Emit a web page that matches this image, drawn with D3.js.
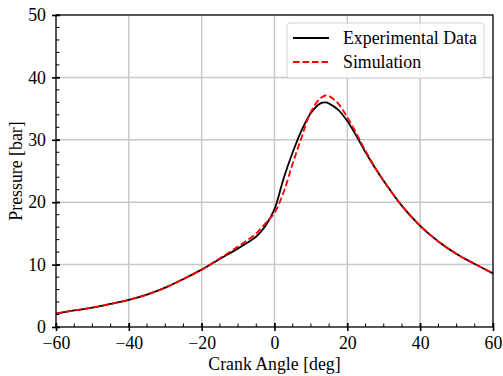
<!DOCTYPE html>
<html>
<head>
<meta charset="utf-8">
<script src="https://cdn.jsdelivr.net/npm/d3@7"></script>
<style>
  body { margin: 0; background: #fff; }
  svg { display: block; }
  svg text { font-family: "Liberation Serif", "Times New Roman", serif; }
</style>
</head>
<body>
<div id="chart"></div>
<script>
// crank angle [deg]
const angleExp = [-60, -55, -50, -45, -40, -35, -30, -25, -20, -15, -10, -7.5, -5, -2.5, 0, 2.5, 5, 7.5, 10, 12.5, 14, 15, 17.5, 20, 22.5, 25, 27.5, 30, 35, 40, 45, 50, 55, 60];
const pressureExp = [2.15, 2.65, 3.1, 3.7, 4.35, 5.2, 6.3, 7.7, 9.2, 10.9, 12.6, 13.5, 14.5, 16.2, 18.9, 23.8, 28.0, 31.6, 34.3, 35.8, 36.0, 35.8, 34.8, 33.0, 30.6, 28.0, 25.6, 23.4, 19.4, 16.2, 13.7, 11.7, 10.1, 8.6];

const angleSim = [-60, -55, -50, -45, -40, -35, -30, -25, -20, -15, -10, -7.5, -5, -2.5, 0, 2.5, 5, 7.5, 10, 12.5, 14, 15, 17.5, 20, 22.5, 25, 27.5, 30, 35, 40, 45, 50, 55, 60];
const pressureSim = [2.15, 2.65, 3.1, 3.7, 4.35, 5.2, 6.3, 7.7, 9.2, 11.0, 12.9, 13.9, 15.0, 16.6, 18.3, 21.6, 26.2, 30.5, 34.5, 36.6, 37.1, 37.0, 35.8, 33.6, 31.0, 28.2, 25.7, 23.4, 19.4, 16.2, 13.7, 11.7, 10.1, 8.6];

const xTicks = [-60, -40, -20, 0, 20, 40, 60];
const yTicks = [0, 10, 20, 30, 40, 50];
const xMinor = d3.range(-60, 61, 5);
const yMinor = d3.range(0, 51, 2);

const seriesNames = ["Experimental Data", "Simulation"];

const W = 503, H = 376;
const margin = { top: 15, right: 10, bottom: 49, left: 56 };
const width = W - margin.left - margin.right;
const height = H - margin.top - margin.bottom;
const fontSize = "17.8px";

const svg = d3.select("#chart").append("svg")
    .attr("width", W)
    .attr("height", H);

const g = svg.append("g")
    .attr("transform", "translate(" + margin.left + "," + margin.top + ")");

const x = d3.scaleLinear().domain([-60, 60]).range([0, width]);
const y = d3.scaleLinear().domain([0, 50]).range([height, 0]);

// grid
g.append("g").selectAll("line")
    .data(xTicks)
    .enter().append("line")
    .attr("x1", d => x(d)).attr("x2", d => x(d))
    .attr("y1", 0).attr("y2", height)
    .attr("stroke", "#c8c8c8").attr("stroke-width", 1.5);
g.append("g").selectAll("line")
    .data(yTicks)
    .enter().append("line")
    .attr("x1", 0).attr("x2", width)
    .attr("y1", d => y(d)).attr("y2", d => y(d))
    .attr("stroke", "#c8c8c8").attr("stroke-width", 1.5);

// curves
const line = d3.line()
    .x(d => x(d[0]))
    .y(d => y(d[1]))
    .curve(d3.curveCatmullRom.alpha(0.5));

g.append("path")
    .datum(d3.zip(angleExp, pressureExp))
    .attr("d", line)
    .attr("fill", "none")
    .attr("stroke", "#000")
    .attr("stroke-width", 1.8);

g.append("path")
    .datum(d3.zip(angleSim, pressureSim))
    .attr("d", line)
    .attr("fill", "none")
    .attr("stroke", "#ff0000")
    .attr("stroke-width", 1.8)
    .attr("stroke-dasharray", "6.6,2.9");

// axes: major ticks in/out, minor ticks inside
const xAxis = g.append("g")
    .attr("transform", "translate(0," + height + ")")
    .call(d3.axisBottom(x).tickValues(xTicks).tickSize(4).tickPadding(5)
        .tickFormat(d => d < 0 ? "\u2212" + Math.abs(d) : d));
xAxis.attr("font-family", null).attr("font-size", null);
xAxis.select(".domain").remove();
xAxis.selectAll(".tick line").attr("y1", -4).attr("stroke-width", 1.6);
xAxis.selectAll("text").style("font-size", fontSize).attr("fill", "#000");

g.append("g").selectAll("line")
    .data(xMinor)
    .enter().append("line")
    .attr("x1", d => x(d)).attr("x2", d => x(d))
    .attr("y1", height).attr("y2", height - 3.5)
    .attr("stroke", "#000").attr("stroke-width", 1);

const yAxis = g.append("g")
    .call(d3.axisLeft(y).tickValues(yTicks).tickSize(4).tickPadding(6));
yAxis.attr("font-family", null).attr("font-size", null);
yAxis.select(".domain").remove();
yAxis.selectAll(".tick line").attr("x1", 4).attr("stroke-width", 1.6);
yAxis.selectAll("text").style("font-size", fontSize).attr("fill", "#000");

g.append("g").selectAll("line")
    .data(yMinor)
    .enter().append("line")
    .attr("x1", 0).attr("x2", 3.5)
    .attr("y1", d => y(d)).attr("y2", d => y(d))
    .attr("stroke", "#000").attr("stroke-width", 1);

// frame
g.append("rect")
    .attr("width", width).attr("height", height)
    .attr("fill", "none").attr("stroke", "#000").attr("stroke-width", 1.2);

// axis labels
svg.append("text")
    .attr("x", margin.left + width / 2)
    .attr("y", H - 6)
    .attr("text-anchor", "middle")
    .style("font-size", fontSize)
    .text("Crank Angle [deg]");

svg.append("text")
    .attr("transform", "rotate(-90)")
    .attr("x", -(margin.top + height / 2))
    .attr("y", 22)
    .attr("text-anchor", "middle")
    .style("font-size", fontSize)
    .text("Pressure [bar]");

// legend
const legend = g.append("g").attr("transform", "translate(231,8)");
legend.append("rect")
    .attr("width", 197).attr("height", 55)
    .attr("rx", 3)
    .attr("fill", "#fff").attr("fill-opacity", 0.8)
    .attr("stroke", "#d5d5d5").attr("stroke-width", 1);

const legendStyle = [
    { color: "#000", dash: null },
    { color: "#ff0000", dash: "6.6,2.9" }
];
seriesNames.forEach((name, i) => {
    const ly = 15 + i * 24;
    legend.append("line")
        .attr("x1", 6).attr("x2", 42)
        .attr("y1", ly).attr("y2", ly)
        .attr("stroke", legendStyle[i].color)
        .attr("stroke-width", 1.8)
        .attr("stroke-dasharray", legendStyle[i].dash);
    legend.append("text")
        .attr("x", 56).attr("y", ly)
        .attr("dy", "0.35em")
        .style("font-size", fontSize)
        .text(name);
});
</script>
</body>
</html>
